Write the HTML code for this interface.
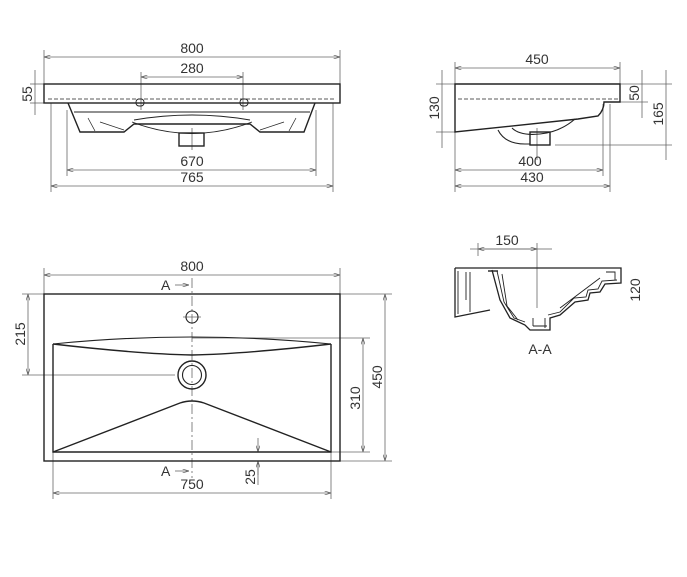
<!DOCTYPE html>
<html><head><style>body{margin:0;background:#fff}svg{display:block}text{font-family:"Liberation Sans",sans-serif;font-size:14px;fill:#333}</style></head><body>
<svg width="687" height="577" viewBox="0 0 687 577" xmlns="http://www.w3.org/2000/svg">
<defs><marker id="a" viewBox="0 0 10 6" refX="10" refY="3" markerWidth="8" markerHeight="5" orient="auto-start-reverse"><path d="M0,0L10,3L0,6" fill="none" stroke="#555" stroke-width="1"/></marker></defs>
<g stroke="#666" stroke-width="0.8" fill="none">
<line x1="44" y1="57" x2="340" y2="57" marker-start="url(#a)" marker-end="url(#a)"/>
<line x1="44" y1="50" x2="44" y2="84"/><line x1="340" y1="50" x2="340" y2="84"/>
<line x1="141" y1="77" x2="243" y2="77" marker-start="url(#a)" marker-end="url(#a)"/>
<line x1="141" y1="72" x2="141" y2="110"/><line x1="243" y1="72" x2="243" y2="110"/>
<line x1="35" y1="70" x2="35" y2="115"/><line x1="30" y1="84" x2="44" y2="84"/><line x1="30" y1="103" x2="44" y2="103"/>
<line x1="67" y1="170" x2="316" y2="170" marker-start="url(#a)" marker-end="url(#a)"/>
<line x1="67" y1="110" x2="67" y2="176"/><line x1="316" y1="110" x2="316" y2="176"/>
<line x1="51" y1="186" x2="333" y2="186" marker-start="url(#a)" marker-end="url(#a)"/>
<line x1="51" y1="103" x2="51" y2="192"/><line x1="333" y1="103" x2="333" y2="192"/>
<line x1="192" y1="128" x2="192" y2="150"/>
<line x1="455" y1="68" x2="620" y2="68" marker-start="url(#a)" marker-end="url(#a)"/>
<line x1="455" y1="62" x2="455" y2="192"/><line x1="620" y1="62" x2="620" y2="84"/>
<line x1="442" y1="70" x2="442" y2="148"/><line x1="436" y1="84" x2="455" y2="84"/><line x1="436" y1="132" x2="455" y2="132"/>
<line x1="642" y1="70" x2="642" y2="118"/><line x1="620" y1="84" x2="672" y2="84"/><line x1="620" y1="102" x2="648" y2="102"/>
<line x1="666" y1="70" x2="666" y2="160"/><line x1="555" y1="145" x2="672" y2="145"/>
<line x1="455" y1="170" x2="603" y2="170" marker-start="url(#a)" marker-end="url(#a)"/>
<line x1="603" y1="104" x2="603" y2="176"/>
<line x1="455" y1="186" x2="610" y2="186" marker-start="url(#a)" marker-end="url(#a)"/>
<line x1="610" y1="104" x2="610" y2="192"/>
<line x1="537" y1="128" x2="537" y2="160"/>
<line x1="470" y1="249" x2="537" y2="249"/><line x1="478" y1="249" x2="537" y2="249" marker-start="url(#a)" marker-end="url(#a)"/>
<line x1="478" y1="243" x2="478" y2="256"/><line x1="537" y1="243" x2="537" y2="308"/><line x1="537" y1="249" x2="552" y2="249"/>
<line x1="44" y1="275" x2="340" y2="275" marker-start="url(#a)" marker-end="url(#a)"/>
<line x1="44" y1="268" x2="44" y2="294"/><line x1="340" y1="268" x2="340" y2="294"/>
<line x1="28" y1="294" x2="28" y2="375" marker-start="url(#a)" marker-end="url(#a)"/>
<line x1="22" y1="294" x2="44" y2="294"/><line x1="22" y1="375" x2="175" y2="375"/>
<line x1="363" y1="338" x2="363" y2="452" marker-start="url(#a)" marker-end="url(#a)"/>
<line x1="192" y1="338" x2="370" y2="338"/><line x1="331" y1="452" x2="370" y2="452"/>
<line x1="385" y1="294" x2="385" y2="461" marker-start="url(#a)" marker-end="url(#a)"/>
<line x1="340" y1="294" x2="392" y2="294"/><line x1="340" y1="461" x2="392" y2="461"/>
<line x1="53" y1="493" x2="331" y2="493" marker-start="url(#a)" marker-end="url(#a)"/>
<line x1="53" y1="452" x2="53" y2="499"/><line x1="331" y1="452" x2="331" y2="499"/>
<line x1="258" y1="438" x2="258" y2="452" marker-end="url(#a)"/><line x1="258" y1="475" x2="258" y2="461" marker-end="url(#a)"/><line x1="258" y1="461" x2="258" y2="485"/>
<line x1="175" y1="285" x2="189" y2="285" marker-end="url(#a)"/><line x1="175" y1="471" x2="189" y2="471" marker-end="url(#a)"/>
<line x1="192" y1="278" x2="192" y2="478" stroke-dasharray="10,3,2,3"/>
<line x1="183" y1="317" x2="201" y2="317"/>
</g>
<g stroke="#222" stroke-width="1.4" fill="none">
<rect x="44" y="84" width="296" height="19"/>
<line x1="48" y1="99" x2="336" y2="99" stroke-dasharray="4,2" stroke-width="0.8"/>
<rect x="136" y="99" width="8" height="7" rx="3" stroke-width="0.9"/><rect x="240" y="99" width="8" height="7" rx="3" stroke-width="0.9"/>
<path d="M68,103 L80,132 L124,132 L134,124 L250,124 L260,132 L304,132 L315,103"/>
<path d="M74,112 L310,112" stroke-width="0.9"/>
<path d="M134,120 Q192,110 250,120 M132,122 Q192,145 252,122" stroke-width="0.9"/>
<path d="M88,118 L95,131 M296,118 L289,131 M100,122 L124,130 M284,122 L260,130" stroke-width="0.7"/>
<rect x="179" y="133" width="25" height="13"/>
<path d="M455,84 L620,84 L620,102 L604,102 Q604,110 598,116 L578,119 L455,132 Z"/>
<line x1="458" y1="99" x2="618" y2="99" stroke-dasharray="4,2" stroke-width="0.8"/>
<path d="M498,130 Q505,144 525,144 L530,144" stroke-width="1.1"/>
<path d="M512,128 Q520,136 540,134 Q560,132 575,119" stroke-width="1.1"/>
<rect x="530" y="132" width="20" height="13"/>
<path d="M455,268 L621,268 L621,283 L605,284 L600,292 L590,293 L588,300 L575,302 L560,315 L550,318 L550,330 L530,330 L525,325 L510,318 L500,300 L492,270 M455,268 L455,317 L490,310" stroke-width="1.3"/>
<path d="M458,271 L458,314 M466,272 L466,300 M470,272 L470,312 M497,271 L504,302 L514,318 L525,322 M502,274 L507,306 L518,320 M606,272 L615,272 L615,280 M560,308 L600,278 M548,315 L560,312 L574,298 L586,297 L588,290 L598,289 L602,281 L617,280 M533,326 L547,326 M545,318 L545,328 M533,318 L533,326" stroke-width="0.9"/>
<line x1="488" y1="271" x2="498" y2="271"/>
<rect x="44" y="294" width="296" height="167"/>
<path d="M53,344 L53,452 L331,452 L331,344"/>
<path d="M53,344 Q192,330 331,344" stroke-width="1.1"/>
<path d="M53,344 Q140,354 192,355 Q244,354 331,344"/>
<path d="M53,452 Q110,430 180,403 Q192,399 204,403 Q274,430 331,452"/>
<circle cx="192" cy="317" r="6" stroke-width="1.1"/>
<circle cx="192" cy="375" r="14"/><circle cx="192" cy="375" r="9.5" stroke-width="1.1"/>
</g>
<g>
<text x="192" y="53" text-anchor="middle">800</text>
<text x="192" y="73" text-anchor="middle">280</text>
<text x="192" y="166" text-anchor="middle">670</text>
<text x="192" y="182" text-anchor="middle">765</text>
<text transform="translate(32,94) rotate(-90)" text-anchor="middle">55</text>
<text x="537" y="64" text-anchor="middle">450</text>
<text x="530" y="166" text-anchor="middle">400</text>
<text x="532" y="182" text-anchor="middle">430</text>
<text transform="translate(439,108) rotate(-90)" text-anchor="middle">130</text>
<text transform="translate(639,93) rotate(-90)" text-anchor="middle">50</text>
<text transform="translate(663,114) rotate(-90)" text-anchor="middle">165</text>
<text x="507" y="245" text-anchor="middle">150</text>
<text transform="translate(640,290) rotate(-90)" text-anchor="middle">120</text>
<text x="540" y="354" text-anchor="middle">A-A</text>
<text x="192" y="271" text-anchor="middle">800</text>
<text x="161" y="290">A</text><text x="161" y="476">A</text>
<text transform="translate(25,334) rotate(-90)" text-anchor="middle">215</text>
<text transform="translate(360,398) rotate(-90)" text-anchor="middle">310</text>
<text transform="translate(382,377) rotate(-90)" text-anchor="middle">450</text>
<text x="192" y="489" text-anchor="middle">750</text>
<text transform="translate(255,477) rotate(-90)" text-anchor="middle">25</text>
</g>
</svg>
</body></html>
